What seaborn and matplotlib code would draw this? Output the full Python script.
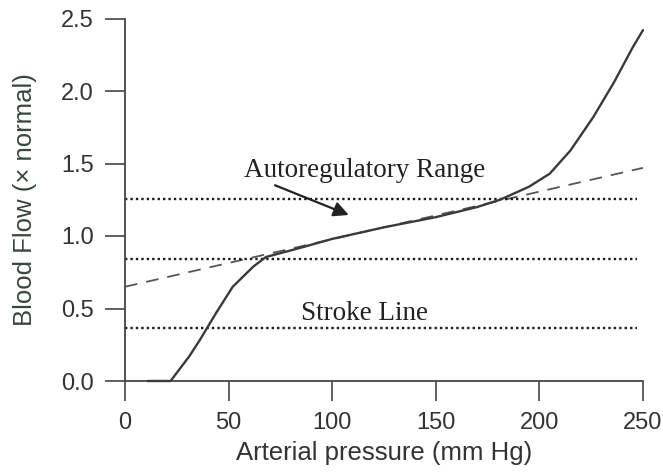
import matplotlib
matplotlib.use("Agg")
import matplotlib.pyplot as plt
import seaborn as sns
import pandas as pd

# ---- data ----
pressure = [11, 22, 31, 36, 44, 52, 62, 68, 85, 100, 125, 150, 170, 181, 195, 205, 215, 226, 236, 245, 250]
blood_flow = [0, 0, 0.17, 0.28, 0.47, 0.65, 0.79, 0.855, 0.92, 0.98, 1.06, 1.13, 1.20, 1.25, 1.34, 1.43, 1.59, 1.82, 2.06, 2.30, 2.42]

dashed_pressure = [0, 250]
dashed_flow = [0.65, 1.47]

ref_levels = [1.255, 0.84, 0.365]
ref_x = [0, 247]

x_ticks = [0, 50, 100, 150, 200, 250]
y_ticks = [0.0, 0.5, 1.0, 1.5, 2.0, 2.5]
y_tick_labels = ["0.0", "0.5", "1.0", "1.5", "2.0", "2.5"]

sns.set_style("ticks")
plt.rcParams['font.family'] = ['Liberation Sans', 'DejaVu Sans']

fig = plt.figure(figsize=(6.63, 4.75), dpi=100)
ax = fig.add_axes([125/663, 1-381/475, (643-125)/663, (381-18.5)/475])

df_main = pd.DataFrame({"p": pressure, "f": blood_flow})
df_dash = pd.DataFrame({"p": dashed_pressure, "f": dashed_flow})

sns.lineplot(data=df_dash, x="p", y="f", ax=ax, color="#555555", lw=1.3,
             linestyle=(0, (7, 5)), clip_on=False)
sns.lineplot(data=df_main, x="p", y="f", ax=ax, color="#3a3a3a", lw=1.7,
             clip_on=False, zorder=5)

for lvl in ref_levels:
    ax.plot(ref_x, [lvl, lvl], color="#1a1a1a", lw=1.7,
            linestyle=(0, (1, 1.3)), clip_on=False)

serif = ['Liberation Serif', 'DejaVu Serif']
ax.text(115.6, 1.407, "Autoregulatory Range", family=serif, fontsize=19.5,
        ha='center', va='baseline', color="#222222")
ax.text(115.6, 0.42, "Stroke Line", family=serif, fontsize=19.5,
        ha='center', va='baseline', color="#222222")
ax.annotate("", xy=(108, 1.145), xytext=(72.4, 1.35),
            arrowprops=dict(arrowstyle="-|>,head_length=0.9,head_width=0.45",
                            color="#222222", lw=1.6, shrinkA=0, shrinkB=0))

ax.set_xlim(0, 250)
ax.set_ylim(0, 2.5)
ax.set_xticks(x_ticks)
ax.set_yticks(y_ticks)
ax.set_yticklabels(y_tick_labels)

for s in ["top", "right"]:
    ax.spines[s].set_visible(False)
for s in ["left", "bottom"]:
    ax.spines[s].set_color("#444444")
    ax.spines[s].set_linewidth(1.3)

ax.tick_params(axis='both', direction='out', length=14.5, width=1.2,
               color="#444444", labelsize=17, labelcolor="#333333", pad=8)

ax.set_xlabel("Arterial pressure (mm Hg)", fontsize=18.5, color="#333333", labelpad=5)
ax.set_ylabel("Blood Flow (\u00d7 normal)", fontsize=18.5, color="#34483b", labelpad=17)

fig.savefig("out.png", dpi=100)
